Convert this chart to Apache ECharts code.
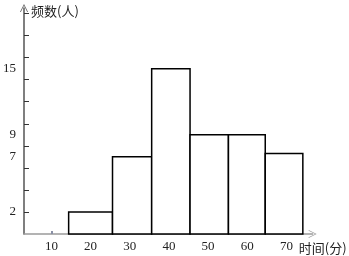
<!DOCTYPE html>
<html>
<head>
<meta charset="utf-8">
<script src="https://cdn.jsdelivr.net/npm/echarts@6/dist/echarts.min.js"></script>
<style>
html,body{margin:0;padding:0;background:#fff;}
#c{width:349px;height:256px;}
</style>
</head>
<body>
<div id="c"></div>
<script>
// data
var binStart = [14.4, 25.6, 35.6, 45.4, 55.2, 64.6];
var binEnd = [25.6, 35.6, 45.4, 55.2, 64.6, 74.2];
var counts = [2, 7, 15, 9, 9, 7.3];
var xTickValues = [10, 20, 30, 40, 50, 60, 70];
var xTickLabels = ['10', '20', '30', '40', '50', '60', '70'];
var yLabelValues = [2, 7, 9, 15];
var yTickValues = [2, 4, 6, 8, 10, 12, 14, 16, 18, 20];

var seriesData = counts.map(function (c, i) { return [binStart[i], binEnd[i], c]; });

var chevron = 'path://M0,10 L5,0 L10,10 L9,10 L5,1.8 L1,10 Z';
var serif = "'Liberation Serif','DejaVu Serif',serif";
var cjk = "'Noto Sans CJK SC','Noto Sans',sans-serif";

var chart = echarts.init(document.getElementById('c'));
chart.setOption({
  animation: false,
  grid: { left: 20, right: 34, top: 8, bottom: 22 },
  xAxis: {
    type: 'value',
    min: 3, max: 76.7,
    splitLine: { show: false },
    name: '时间(分)',
    nameLocation: 'end',
    nameGap: 6,
    nameTextStyle: { fontFamily: cjk, fontSize: 13, color: '#222', align: 'center', verticalAlign: 'top', padding: [8, 0, 0, 0] },
    axisLine: { show: true, symbol: ['none', chevron], symbolSize: [8, 8], lineStyle: { color: '#9a9a9a', width: 1.5 } },
    axisTick: { show: true, inside: true, length: 3, customValues: xTickValues, lineStyle: { color: '#8a90a6', width: 2 } },
    axisLabel: {
      show: true, margin: 6, customValues: xTickValues,
      fontFamily: serif, fontSize: 13, color: '#222',
      formatter: function (v) { var i = xTickValues.indexOf(v); return i >= 0 ? xTickLabels[i] : ''; }
    }
  },
  yAxis: {
    type: 'value',
    min: 0, max: 20.5,
    splitLine: { show: false },
    name: '频数(人)',
    nameLocation: 'end',
    nameGap: -3,
    nameTextStyle: { fontFamily: cjk, fontSize: 13, color: '#222', align: 'left', verticalAlign: 'middle', padding: [0, 0, 0, 7] },
    axisLine: { show: true, symbol: ['none', chevron], symbolSize: [8, 8], lineStyle: { color: '#555', width: 1.5 } },
    axisTick: { show: true, inside: true, length: 5, customValues: yTickValues, lineStyle: { color: '#333', width: 1 } },
    axisLabel: { show: true, margin: 8, customValues: yLabelValues, fontFamily: serif, fontSize: 13, color: '#222' }
  },
  series: [{
    type: 'custom',
    data: seriesData,
    encode: { x: [0, 1], y: 2 },
    renderItem: function (params, api) {
      var p0 = api.coord([api.value(0), api.value(2)]);
      var p1 = api.coord([api.value(1), 0]);
      return {
        type: 'rect',
        shape: { x: p0[0], y: p0[1], width: p1[0] - p0[0], height: p1[1] - p0[1] },
        style: { fill: '#fff', stroke: '#000', lineWidth: 1.5 }
      };
    }
  }]
});
</script>
</body>
</html>
